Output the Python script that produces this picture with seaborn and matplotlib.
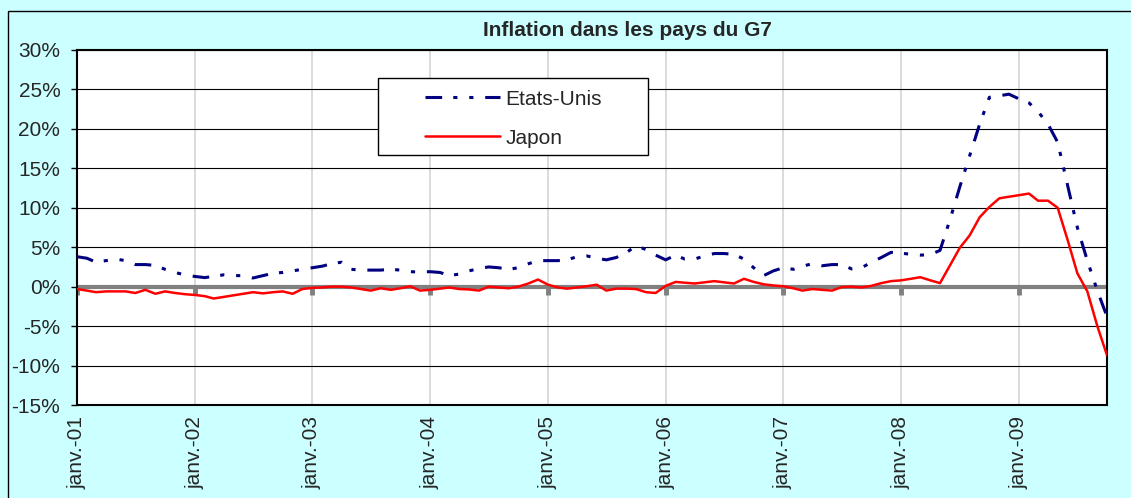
import numpy as np
import pandas as pd
import matplotlib
matplotlib.use("Agg")
import matplotlib.pyplot as plt
import seaborn as sns
from matplotlib.patches import Rectangle
from matplotlib.lines import Line2D

# ---------------- data ----------------
months = pd.date_range("2001-01-01", periods=106, freq="MS")

etats_unis = [
    3.8, 3.6, 3.1, 3.3, 3.5, 3.3, 2.8, 2.8, 2.7, 2.2, 1.8, 1.5,
    1.3, 1.15, 1.3, 1.5, 1.4, 1.4, 1.1, 1.4, 1.7, 1.8, 2.0, 2.2,
    2.4, 2.6, 2.9, 3.1, 2.2, 2.1, 2.1, 2.1, 2.2, 2.1, 1.9, 1.85,
    1.9, 1.8, 1.4, 1.6, 2.0, 2.3, 2.5, 2.4, 2.2, 2.4, 2.9, 3.3,
    3.3, 3.3, 3.4, 3.8, 3.9, 3.6, 3.4, 3.7, 4.3, 5.2, 4.7, 4.0,
    3.4, 4.0, 3.5, 3.5, 3.9, 4.2, 4.2, 4.1, 3.5, 2.4, 1.4, 2.0,
    2.4, 2.2, 2.6, 2.9, 2.65, 2.8, 2.8, 2.25, 2.4, 3.1, 3.7, 4.35,
    4.25, 4.1, 4.0, 4.05, 4.6, 8.5, 12.6, 16.6, 20.6, 24.0, 24.2, 24.4,
    23.8, 23.3, 22.2, 20.6, 18.3, 12.8, 7.5, 3.3, -0.5, -3.8,
]

japon = [
    -0.3, -0.5, -0.7, -0.6, -0.6, -0.6, -0.8, -0.4, -0.9, -0.6, -0.8, -0.95,
    -1.05, -1.2, -1.5, -1.3, -1.1, -0.9, -0.7, -0.85, -0.7, -0.6, -0.9, -0.3,
    -0.15, -0.1, 0.0, 0.0, -0.1, -0.3, -0.5, -0.2, -0.4, -0.2, 0.05, -0.5,
    -0.4, -0.25, -0.1, -0.3, -0.35, -0.5, 0.0, -0.1, -0.2, 0.0, 0.4, 0.9,
    0.25, -0.1, -0.25, -0.1, 0.05, 0.25, -0.5, -0.25, -0.25, -0.3, -0.7, -0.8,
    0.1, 0.6, 0.5, 0.4, 0.55, 0.7, 0.55, 0.4, 1.0, 0.6, 0.3, 0.15,
    0.05, -0.2, -0.5, -0.3, -0.4, -0.5, -0.05, 0.0, -0.1, 0.1, 0.45, 0.7,
    0.8, 1.0, 1.2, 0.8, 0.45, 2.7, 4.9, 6.5, 8.8, 10.1, 11.2, 11.4,
    11.6, 11.8, 10.9, 10.9, 10.0, 5.9, 1.7, -0.6, -5.0, -8.7,
]

series_names = ["Etats-Unis", "Japon"]
series_colors = {"Etats-Unis": "#000080", "Japon": "#FF0000"}
year_ticks = pd.date_range("2001-01-01", "2009-01-01", freq="YS")
year_labels = ["janv.-01", "janv.-02", "janv.-03", "janv.-04", "janv.-05",
               "janv.-06", "janv.-07", "janv.-08", "janv.-09"]
y_ticks = [-15, -10, -5, 0, 5, 10, 15, 20, 25, 30]
y_labels = [f"{v}%" for v in y_ticks]

df = pd.DataFrame({
    "date": np.concatenate([months, months]),
    "value": np.concatenate([etats_unis, japon]),
    "serie": ["Etats-Unis"] * len(months) + ["Japon"] * len(months),
})

# ---------------- style ----------------
sns.set_style("white")
plt.rcParams["font.family"] = ["Liberation Sans", "DejaVu Sans"]
plt.rcParams["lines.scale_dashes"] = False

W, H = 1131, 498
fig = plt.figure(figsize=(W / 100, H / 100), dpi=100, facecolor="#CCFFFF")
ax = fig.add_axes([77 / W, 1 - 405 / H, (1107 - 77) / W, (405 - 50) / H])
ax.set_facecolor("white")

us_dash = (12, 8, 3, 8.5, 3, 8.5)
sns.lineplot(data=df, x="date", y="value", hue="serie", style="serie",
             palette=series_colors,
             dashes={"Etats-Unis": us_dash, "Japon": ""},
             ax=ax, legend=False, zorder=4)
lines = list(ax.lines)
lines[0].set_linewidth(2.2)
lines[1].set_linewidth(1.8)

# zero axis line with year tick marks
ax.axhline(0, color="#808080", lw=3, zorder=2)
ax.vlines(year_ticks, -1.0, 0, color="#808080", lw=3.5, zorder=2)

ax.set_xlim(months[0], months[-1])
ax.set_ylim(-15, 30)
ax.set_yticks(y_ticks)
ax.set_yticklabels(y_labels)
ax.set_xticks(year_ticks)
ax.set_xticklabels(year_labels, rotation=90, va="top", ha="center")
ax.set_xlabel("")
ax.set_ylabel("")

ax.set_axisbelow(True)
ax.yaxis.grid(True, color="black", lw=0.8)
ax.xaxis.grid(True, color="#D4D4D4", lw=1.2)

for s in ax.spines.values():
    s.set_visible(True)
    s.set_color("black")
    s.set_linewidth(1.5)

ax.tick_params(axis="y", direction="out", length=4, width=1, color="black",
               labelsize=15, pad=8, left=True)
ax.tick_params(axis="x", length=0, labelsize=15, pad=8)

# legend
ax.add_patch(Rectangle((0.2922, 0.7042), 0.2622, 0.2169, transform=ax.transAxes,
                       facecolor="white", edgecolor="black", lw=1, zorder=3))
handles = [
    Line2D([], [], color=series_colors["Etats-Unis"], lw=2.2, dashes=us_dash),
    Line2D([], [], color=series_colors["Japon"], lw=1.8),
]
leg = ax.legend(handles, series_names, loc="upper left",
                bbox_to_anchor=(0.3379, 0.888), frameon=False,
                borderpad=0, borderaxespad=0, handlelength=3.6,
                handletextpad=0.25, labelspacing=0.96, fontsize=15)
leg.set_zorder(5)

fig.text(627 / W, 1 - 30 / H, "Inflation dans les pays du G7", ha="center",
         va="center", fontsize=15, fontweight="bold")

fig.add_artist(Rectangle((8 / W, -0.1), 1.2, 1.1 - 11 / H,
                         transform=fig.transFigure, fill=False,
                         edgecolor="black", lw=1))

fig.savefig("out.png", dpi=100, facecolor=fig.get_facecolor())
